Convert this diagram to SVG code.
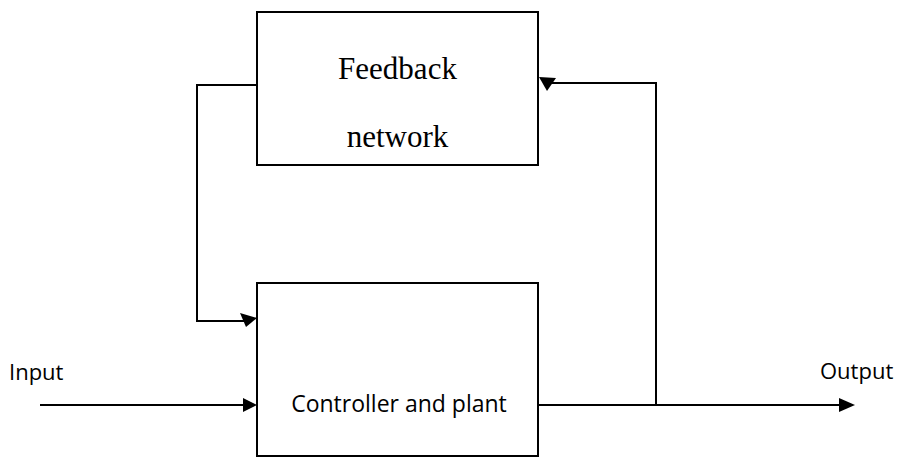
<svg xmlns="http://www.w3.org/2000/svg" width="901" height="458" viewBox="0 0 901 458">
<style>
.box{fill:#fff;stroke:#000;stroke-width:2}
.ln{fill:none;stroke:#000;stroke-width:2}
.ah{fill:#000;stroke:none}
.serif{font-family:"Liberation Serif","Times New Roman",serif;font-size:31px;fill:#000}
.sans{font-family:"Open Sans","Liberation Sans",sans-serif;font-size:22px;fill:#000}
</style>
<rect width="901" height="458" fill="#fff"/>
<g id="connectors">
<polyline class="ln" points="257,85 197,85 197,321 246,321"/>
<polygon class="ah" points="240,313 257,318 246,327"/>
<polyline class="ln" points="538,405 656,405 656,83 550,83"/>
<polygon class="ah" points="539,77 556,78 547,91"/>
<line class="ln" x1="40" y1="405" x2="244" y2="405"/>
<polygon class="ah" points="243,398 257,405 243,412"/>
<line class="ln" x1="656" y1="405" x2="841" y2="405"/>
<polygon class="ah" points="839,398 855,405 839,412"/>
</g>
<g id="feedback">
<rect class="box" x="257" y="12" width="281" height="153"/>
<text class="serif" x="397.5" y="79" text-anchor="middle">Feedback</text>
<text class="serif" x="397.5" y="147" text-anchor="middle">network</text>
</g>
<g id="controller">
<rect class="box" x="257" y="283" width="281" height="173"/>
<text class="sans" x="399" y="412" text-anchor="middle" style="font-size:23px">Controller and plant</text>
</g>
<g id="input-label">
<text class="sans" x="9" y="380">Input</text>
</g>
<g id="output-label">
<text class="sans" x="820" y="379">Output</text>
</g>
</svg>
